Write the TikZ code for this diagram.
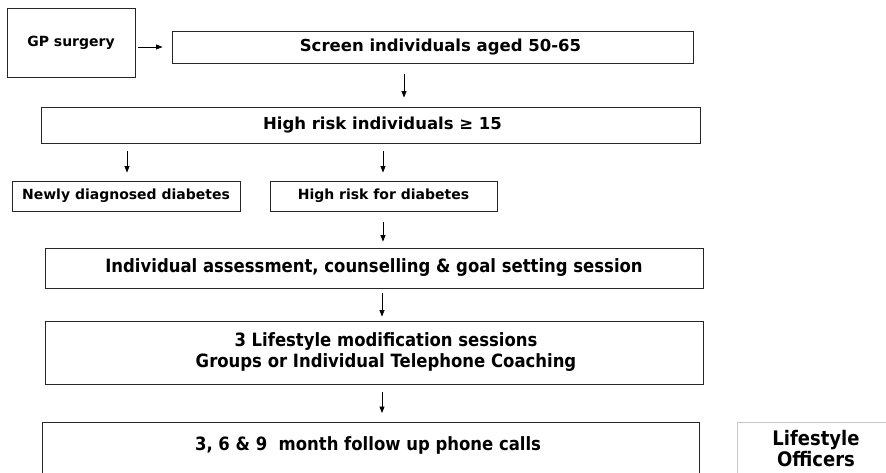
\documentclass[tikz,border=0pt]{standalone}
\usepackage{fontspec}
\setmainfont{DejaVu Sans}
\newfontfamily\tahomaish[FakeStretch=0.9]{DejaVu Sans}
\usetikzlibrary{arrows.meta}
\newcommand\fTop{\fontsize{16.5}{19}\selectfont\bfseries}
\newcommand\fSmall{\fontsize{14}{16}\selectfont\bfseries}
\newcommand\fLow{\tahomaish\fontsize{18.3}{21}\selectfont\bfseries}
\newcommand\fOff{\tahomaish\fontsize{20}{21}\selectfont\bfseries}
\begin{document}
\begin{tikzpicture}[x=1pt,y=-1pt,
  box/.style={draw=black!85, line width=0.9pt, rectangle, inner sep=0pt},
  greybox/.style={draw=black!22, line width=1pt, rectangle, inner sep=0pt},
  arr/.style={-{Triangle[length=6.5pt,width=5pt]}, line width=0.8pt, draw=black}]
\useasboundingbox (0,0) rectangle (886,472);
\fill[white] (0,0) rectangle (886,472);
% arrow axes
\coordinate (xa) at (404,0);
\coordinate (xb) at (127,0);
\coordinate (xc) at (383,0);
\coordinate (xd) at (382,0);
% boxes
\node[box, minimum width=128, minimum height=69, font=\fSmall] (gp) at (71,42.5) {\raisebox{2pt}{GP surgery}};
\node[box, minimum width=521, minimum height=32, font=\fTop] (scr) at (432.5,47) {\hspace*{16pt}Screen individuals aged 50-65};
\node[box, minimum width=659, minimum height=36, font=\fTop] (hr) at (370.5,125) {\hspace*{24pt}High risk individuals ≥ 15};
\node[box, minimum width=228, minimum height=30, font=\fSmall] (nd) at (126,196) {Newly diagnosed diabetes};
\node[box, minimum width=227, minimum height=30, font=\fSmall] (hd) at (383.5,196) {High risk for diabetes};
\node[box, minimum width=658, minimum height=40, font=\fLow] (ia) at (374,268) {Individual assessment, counselling \& goal setting session};
\node[box, minimum width=658, minimum height=63, font=\fLow, align=center] (lm) at (374,352.5) {\hspace*{24pt}3 Lifestyle modification sessions\\\hspace*{24pt}Groups or Individual Telephone Coaching};
\node[box, minimum width=657, minimum height=100, anchor=north west] (fu) at (42,422) {};
\node[font=\fLow, inner sep=0pt] (futext) at (368,445) {3, 6 \& 9\ \ month follow up phone calls};
\node[greybox, minimum width=160, minimum height=100, anchor=north west] (lo) at (737,422) {};
\node[font=\fOff, align=center, inner sep=0pt] (lotext) at (816,449) {Lifestyle\\Officers};
% connectors
\draw[arr, shorten <=3pt, shorten >=9pt] (gp.east |- scr.west) -- (scr.west);
\draw[arr, shorten <=11pt, shorten >=9pt] (scr.south -| xa) -- (hr.north -| xa);
\draw[arr, shorten <=8pt, shorten >=8pt] (hr.south -| xb) -- (nd.north -| xb);
\draw[arr, shorten <=8pt, shorten >=8pt] (hr.south -| xc) -- (hd.north -| xc);
\draw[arr, shorten <=11pt, shorten >=6pt] (hd.south -| xc) -- (ia.north -| xc);
\draw[arr, shorten <=5pt, shorten >=4pt] (ia.south -| xd) -- (lm.north -| xd);
\draw[arr, shorten <=8pt, shorten >=9pt] (lm.south -| xd) -- (fu.north -| xd);
\end{tikzpicture}
\end{document}
